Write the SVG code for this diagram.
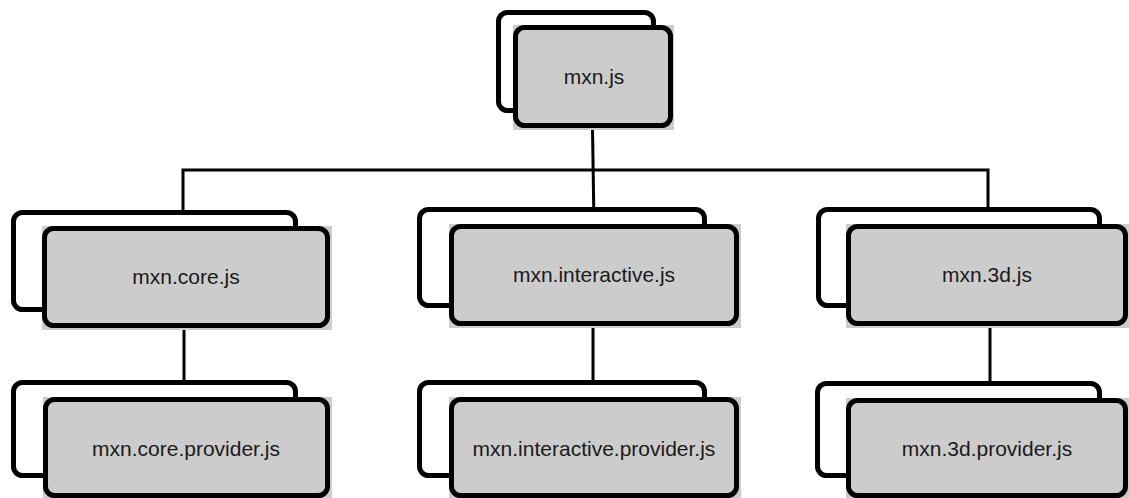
<svg xmlns="http://www.w3.org/2000/svg" width="1129" height="498" viewBox="0 0 1129 498">
<style>
.back{fill:#fff;stroke:#000;stroke-width:5}
.bg{fill:#cccccc}
.front{fill:#cccccc;stroke:#000;stroke-width:5}
.lbl{font-family:"Liberation Sans",Arial,sans-serif;font-size:21px;fill:#1a1a1a;text-anchor:middle}
.conn{stroke:#000;stroke-width:3;fill:none}
</style>
<rect width="1129" height="498" fill="#fff"/>
<g id="connectors">
<line class="conn" x1="592.5" y1="128" x2="594" y2="226"/>
<polyline class="conn" points="183,226 183,170 988,170 988,226"/>
<line class="conn" x1="184" y1="328" x2="184" y2="399"/>
<line class="conn" x1="593" y1="326" x2="593" y2="399"/>
<line class="conn" x1="990" y1="326" x2="990" y2="400"/>
</g>
<g id="mxn-js">
<rect class="back" x="498.5" y="12.5" width="155" height="98" rx="9"/>
<rect class="bg" x="513" y="25" width="161" height="105"/>
<rect class="front" x="515.5" y="27.5" width="155" height="98" rx="9"/>
<text class="lbl" x="594" y="84">mxn.js</text>
</g>
<g id="mxn-core-js">
<rect class="back" x="13.5" y="212.5" width="282" height="97" rx="9"/>
<rect class="bg" x="42" y="226" width="290" height="104"/>
<rect class="front" x="44.5" y="228.5" width="283" height="97" rx="9"/>
<text class="lbl" x="186" y="284">mxn.core.js</text>
</g>
<g id="mxn-interactive-js">
<rect class="back" x="419.5" y="209.5" width="285" height="96" rx="9"/>
<rect class="bg" x="449" y="224" width="292" height="104"/>
<rect class="front" x="451.5" y="226.5" width="285" height="97" rx="9"/>
<text class="lbl" x="594" y="282">mxn.interactive.js</text>
</g>
<g id="mxn-3d-js">
<rect class="back" x="818.5" y="209.5" width="281" height="96" rx="9"/>
<rect class="bg" x="846" y="224" width="283" height="104"/>
<rect class="front" x="848.5" y="226.5" width="277" height="97" rx="9"/>
<text class="lbl" x="987" y="282">mxn.3d.js</text>
</g>
<g id="mxn-core-provider-js">
<rect class="back" x="13.5" y="382.5" width="282" height="93" rx="9"/>
<rect class="bg" x="43" y="397" width="289" height="101"/>
<rect class="front" x="45.5" y="399.5" width="282" height="96" rx="9"/>
<text class="lbl" x="186" y="456">mxn.core.provider.js</text>
</g>
<g id="mxn-interactive-provider-js">
<rect class="back" x="419.5" y="382.5" width="285" height="93" rx="9"/>
<rect class="bg" x="449" y="397" width="292" height="101"/>
<rect class="front" x="451.5" y="399.5" width="285" height="96" rx="9"/>
<text class="lbl" x="594" y="456">mxn.interactive.provider.js</text>
</g>
<g id="mxn-3d-provider-js">
<rect class="back" x="817.5" y="383.5" width="282" height="92" rx="9"/>
<rect class="bg" x="846" y="398" width="283" height="100"/>
<rect class="front" x="848.5" y="400.5" width="277" height="95" rx="9"/>
<text class="lbl" x="987" y="456">mxn.3d.provider.js</text>
</g>
</svg>
